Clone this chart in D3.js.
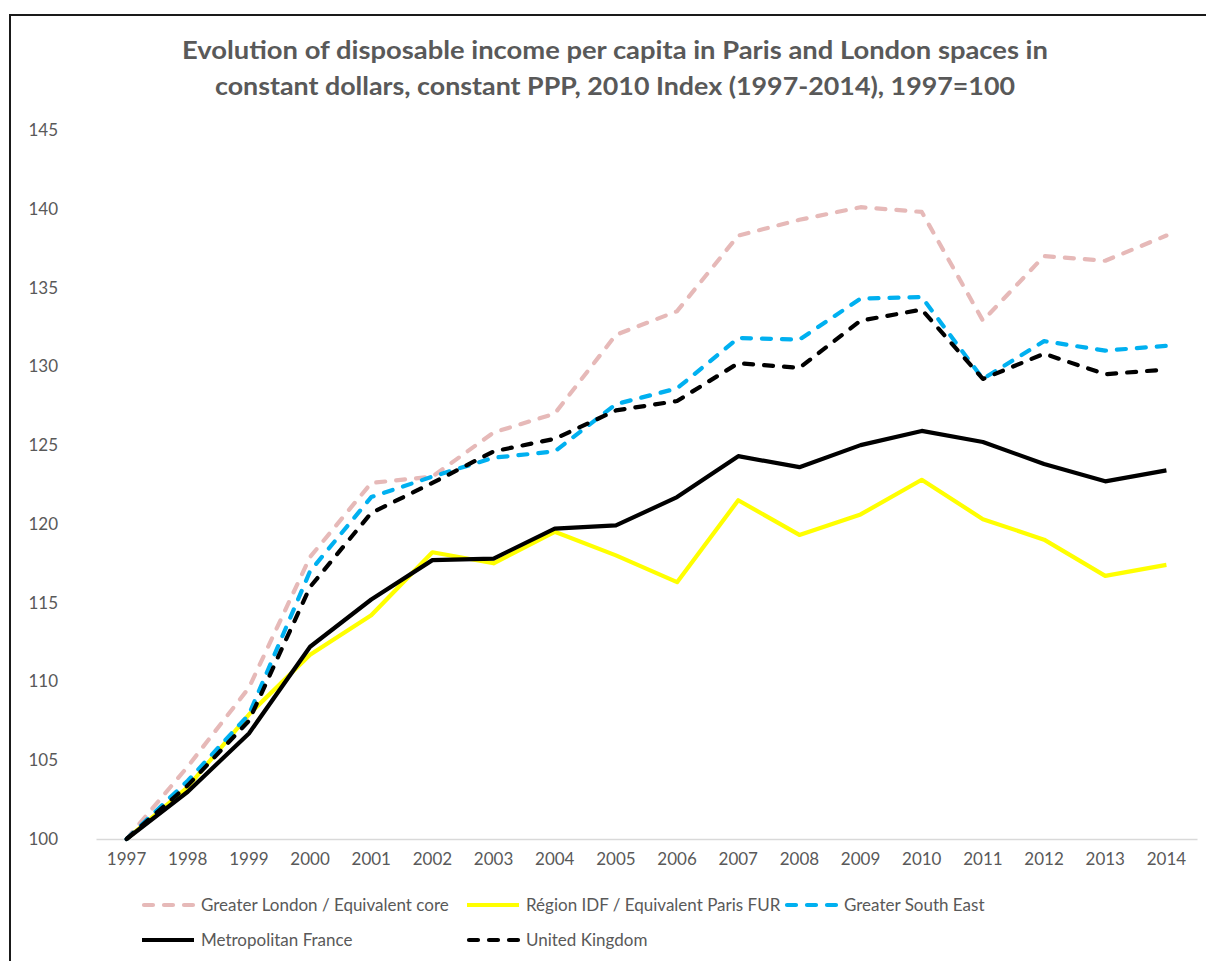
<!DOCTYPE html>
<html>
<head>
<meta charset="utf-8">
<script src="https://cdn.jsdelivr.net/npm/d3@7"></script>
<style>
  body { margin: 0; background: #fff; }
  svg { display: block; font-family: Lato, "Open Sans", sans-serif; }
</style>
</head>
<body>
<div id="chart"></div>
<script>
// chart values
const years = [1997, 1998, 1999, 2000, 2001, 2002, 2003, 2004, 2005,
  2006, 2007, 2008, 2009, 2010, 2011, 2012, 2013, 2014];

const greaterLondon = [100, 104.6, 109.6, 117.9, 122.6, 123.0, 125.8, 127.0, 132.0,
  133.5, 138.3, 139.3, 140.1, 139.8, 132.9, 137.0, 136.7, 138.3];
const regionIdf = [100, 103.3, 107.9, 111.7, 114.2, 118.2, 117.5, 119.5, 118.0,
  116.3, 121.5, 119.3, 120.6, 122.8, 120.3, 119.0, 116.7, 117.4];
const greaterSouthEast = [100, 103.7, 107.9, 117.0, 121.7, 123.0, 124.2, 124.6, 127.6,
  128.6, 131.8, 131.7, 134.3, 134.4, 129.2, 131.6, 131.0, 131.3];
const metroFrance = [100, 103.0, 106.7, 112.2, 115.2, 117.7, 117.8, 119.7, 119.9,
  121.7, 124.3, 123.6, 125.0, 125.9, 125.2, 123.8, 122.7, 123.4];
const unitedKingdom = [100, 103.4, 107.5, 116.0, 120.7, 122.6, 124.6, 125.4, 127.2,
  127.8, 130.2, 129.9, 132.9, 133.6, 129.2, 130.8, 129.5, 129.8];

const yTicks = [100, 105, 110, 115, 120, 125, 130, 135, 140, 145];

const titleLines = [
  'Evolution of disposable income per capita in Paris and London spaces in',
  'constant dollars, constant PPP, 2010 Index (1997-2014), 1997=100'
];

// drawing order follows the reference (later ones on top)
const series = [
  { name: 'Greater London / Equivalent core', values: greaterLondon, color: '#e6b9b8', dashed: true },
  { name: 'Région IDF / Equivalent Paris FUR', values: regionIdf, color: '#ffff00', dashed: false },
  { name: 'Greater South East', values: greaterSouthEast, color: '#00b0f0', dashed: true },
  { name: 'Metropolitan France', values: metroFrance, color: '#000000', dashed: false },
  { name: 'United Kingdom', values: unitedKingdom, color: '#000000', dashed: true }
];

const W = 1206, H = 961;
const plot = { left: 96, right: 1197, top: 130, bottom: 839 };
const textColor = '#595959';
const DASH = '9 11';

const svg = d3.select('#chart').append('svg')
  .attr('width', W)
  .attr('height', H);

svg.append('rect')
  .attr('width', W).attr('height', H)
  .attr('fill', '#fff');

// chart border (right and bottom edges fall outside the picture)
svg.append('rect')
  .attr('x', 10).attr('y', 15)
  .attr('width', W + 20).attr('height', H + 20)
  .attr('fill', 'none')
  .attr('stroke', '#1a1a1a')
  .attr('stroke-width', 2);

// title
svg.append('g')
  .selectAll('text')
  .data(titleLines)
  .join('text')
  .attr('x', 615)
  .attr('y', (d, i) => 59 + i * 36)
  .attr('text-anchor', 'middle')
  .attr('fill', textColor)
  .attr('font-size', 25)
  .attr('font-weight', 'bold')
  .attr('textLength', (d, i) => (i === 0 ? 866 : 800))
  .attr('lengthAdjust', 'spacingAndGlyphs')
  .text((d) => d);

const x = d3.scaleBand()
  .domain(years)
  .range([plot.left, plot.right]);

const y = d3.scaleLinear()
  .domain([100, 145])
  .range([plot.bottom, plot.top]);

// y axis labels, no line and no gridlines
const yAxis = svg.append('g')
  .attr('transform', `translate(${plot.left},0)`)
  .call(d3.axisLeft(y).tickValues(yTicks).tickSize(0).tickPadding(38));
yAxis.select('.domain').remove();
yAxis.selectAll('text')
  .attr('fill', textColor)
  .attr('font-size', 17)
  .attr('font-family', 'Lato, sans-serif');

// x axis
const xAxis = svg.append('g')
  .attr('transform', `translate(0,${plot.bottom})`)
  .call(d3.axisBottom(x).tickSize(0).tickPadding(14));
xAxis.select('.domain')
  .attr('stroke', '#d9d9d9')
  .attr('stroke-width', 1.3);
xAxis.selectAll('text')
  .attr('fill', textColor)
  .attr('font-size', 17)
  .attr('font-family', 'Lato, sans-serif');

const line = d3.line()
  .x((d, i) => x(years[i]) + x.bandwidth() / 2)
  .y((d) => y(d));

svg.append('g')
  .selectAll('path')
  .data(series)
  .join('path')
  .attr('d', (d) => line(d.values))
  .attr('fill', 'none')
  .attr('stroke', (d) => d.color)
  .attr('stroke-width', 4.2)
  .attr('stroke-linejoin', 'round')
  .attr('stroke-linecap', (d) => (d.dashed ? 'round' : 'butt'))
  .attr('stroke-dasharray', (d) => (d.dashed ? DASH : null));

// legend
const legendPos = [
  { x: 142, y: 905 },
  { x: 467, y: 905 },
  { x: 785, y: 905 },
  { x: 142, y: 940 },
  { x: 467, y: 940 }
];

const legend = svg.append('g')
  .selectAll('g')
  .data(series)
  .join('g')
  .attr('transform', (d, i) => `translate(${legendPos[i].x},${legendPos[i].y})`);

legend.append('line')
  .attr('x1', (d) => (d.dashed ? 2 : 0))
  .attr('x2', 52)
  .attr('stroke', (d) => d.color)
  .attr('stroke-width', 4.2)
  .attr('stroke-linecap', (d) => (d.dashed ? 'round' : 'butt'))
  .attr('stroke-dasharray', (d) => (d.dashed ? DASH : null));

legend.append('text')
  .attr('x', 59)
  .attr('dy', '0.35em')
  .attr('fill', textColor)
  .attr('font-size', 17)
  .text((d) => d.name);
</script>
</body>
</html>
